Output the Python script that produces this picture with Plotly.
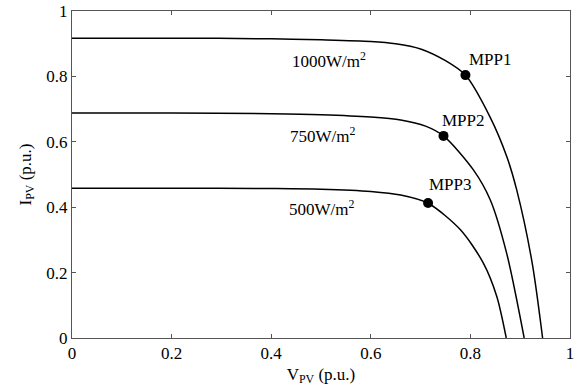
import plotly.graph_objects as go

# Curves (V in p.u., I in p.u.)
v_1000 = [0.0, 0.2, 0.4, 0.5, 0.6, 0.65, 0.7, 0.75, 0.79, 0.84, 0.873, 0.893, 0.924, 0.945]
i_1000 = [0.917, 0.917, 0.915, 0.912, 0.907, 0.900, 0.884, 0.848, 0.804, 0.674, 0.555, 0.453, 0.23, 0.0]

v_750 = [0.0, 0.2, 0.4, 0.5, 0.6, 0.66, 0.71, 0.746, 0.806, 0.84, 0.873, 0.908]
i_750 = [0.688, 0.688, 0.686, 0.683, 0.676, 0.667, 0.648, 0.618, 0.514, 0.422, 0.258, 0.0]

v_500 = [0.0, 0.2, 0.4, 0.5, 0.6, 0.66, 0.715, 0.78, 0.826, 0.853, 0.872]
i_500 = [0.458, 0.458, 0.457, 0.455, 0.448, 0.437, 0.412, 0.331, 0.229, 0.127, 0.0]

mpp_v = [0.790, 0.746, 0.715]
mpp_i = [0.804, 0.618, 0.413]
mpp_labels = ["MPP1", "MPP2", "MPP3"]
irr_labels = ["1000W/m<sup>2</sup>", "750W/m<sup>2</sup>", "500W/m<sup>2</sup>"]

tick_vals = [0, 0.2, 0.4, 0.6, 0.8, 1]
tick_text = ["0", "0.2", "0.4", "0.6", "0.8", "1"]

FONT = "Times New Roman, Liberation Serif, serif"

fig = go.Figure()
for v, i in [(v_1000, i_1000), (v_750, i_750), (v_500, i_500)]:
    fig.add_trace(go.Scatter(x=v, y=i, mode="lines",
                             line=dict(color="black", width=1.5, shape="spline", smoothing=0.8),
                             showlegend=False, hoverinfo="skip"))
fig.add_trace(go.Scatter(x=mpp_v, y=mpp_i, mode="markers",
                         marker=dict(color="black", size=10), showlegend=False))

irr_pos = [(0.517, 0.850), (0.505, 0.620), (0.501, 0.398)]
mpp_pos = [(0.840, 0.853), (0.786, 0.666), (0.760, 0.468)]
for (x, y), t in zip(irr_pos, irr_labels):
    fig.add_annotation(x=x, y=y, text=t, showarrow=False, xref="x", yref="y",
                       font=dict(family=FONT, size=17, color="black"))
for (x, y), t in zip(mpp_pos, mpp_labels):
    fig.add_annotation(x=x, y=y, text=t, showarrow=False, xref="x", yref="y",
                       font=dict(family=FONT, size=17, color="black"))

axis_common = dict(range=[0, 1], tickvals=tick_vals, ticktext=tick_text,
                   ticks="inside", ticklen=4, tickcolor="#555",
                   showline=True, linecolor="#555", linewidth=1, mirror="ticks",
                   showgrid=False, zeroline=False, automargin=False,
                   tickfont=dict(family=FONT, size=17, color="black"))

fig.update_layout(
    width=583, height=391,
    margin=dict(l=72, r=13, t=11, b=53),
    paper_bgcolor="white", plot_bgcolor="white",
    font=dict(family=FONT, size=17, color="black"),
    xaxis=dict(**axis_common, title=dict(text="V<sub>PV</sub> (p.u.)", standoff=5,
                                         font=dict(family=FONT, size=17))),
    yaxis=dict(**axis_common, title=dict(text="I<sub>PV</sub> (p.u.)", standoff=10,
                                         font=dict(family=FONT, size=17))),
)

fig.write_html("out.html", config={"displayModeBar": False},
               post_script="document.body.style.margin='0';document.body.style.overflow='hidden';")
